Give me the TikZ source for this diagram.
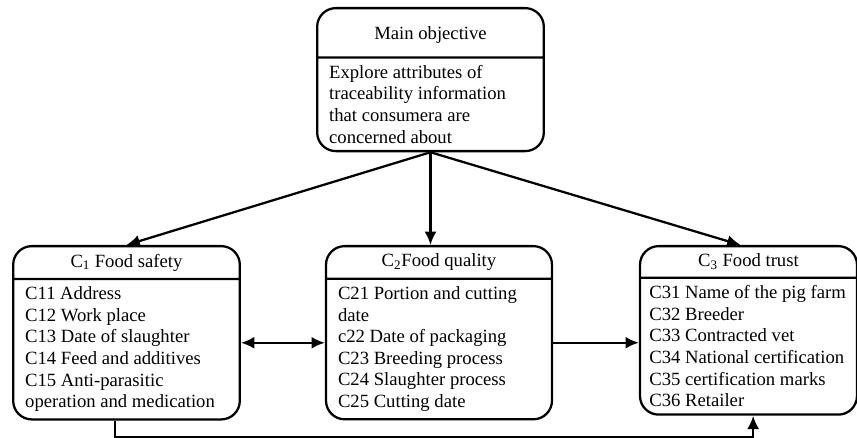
\documentclass[tikz,border=0pt]{standalone}
\usepackage{fontspec}
\setmainfont{Liberation Serif}
\usetikzlibrary{shapes, shapes.multipart, positioning, arrows.meta}

\begin{document}
\begin{tikzpicture}[
    x=0.75pt, y=0.75pt,
    >={Latex[length=10pt, width=9pt]},
    line width=1.7pt,
    criterion/.style={
        draw, rectangle split, rectangle split parts=2,
        rectangle split part align={center, left},
        rounded corners=14pt, anchor=north, align=left,
        minimum width=170pt, inner xsep=9pt, inner ysep=5pt,
        font=\fontsize{14pt}{16.2pt}\selectfont
    },
    link/.style={->}
]

\useasboundingbox (0,0) rectangle (857,438);

\node[criterion] (Goal) at (430.5, 431) {
    Main objective\rule[-7.75pt]{0pt}{25.25pt}
    \nodepart{second}
    Explore attributes of \\
    traceability information \\
    that consumera are \\
    concerned about
};

\node[criterion] (Safety) at (126.5, 193) {
    C\textsubscript{1} Food safety
    \nodepart{second}
    C11 Address \\
    C12 Work place \\
    C13 Date of slaughter \\
    C14 Feed and additives \\
    C15 Anti-parasitic \\
    operation and medication
};

\node[criterion, minimum width=169.5pt] (Quality) at (439, 193) {
    C\textsubscript{2}Food quality
    \nodepart{second}
    C21 Portion and cutting \\
    date \\
    c22 Date of packaging \\
    C23 Breeding process \\
    C24 Slaughter process \\
    C25 Cutting date
};

\node[criterion, minimum width=162.75pt, inner xsep=7pt] (Trust) at (748.5, 193) {
    C\textsubscript{3} Food trust
    \nodepart{second}
    C31 Name of the pig farm \\
    C32 Breeder \\
    C33 Contracted vet \\
    C34 National certification \\
    C35 certification marks \\
    C36 Retailer
};

% arrows from the objective down to the three criteria
\draw[link] (Goal.south) -- (Safety.north);
\draw[link] (Goal.south) -- (Goal.south |- Quality.north);
\draw[link] (Goal.south) -- ([xshift=-6pt]Trust.north);

% links between the criteria
\draw[<->] ([yshift=-7.5pt]Safety.east) -- ([yshift=-7.5pt]Safety.east -| Quality.west);
\draw[link] ([yshift=-7.5pt]Quality.east) -- ([yshift=-7.5pt]Quality.east -| Trust.west);
\draw[link] ([xshift=-8.5pt]Safety.south) -- ++(0,-17) -| ([xshift=3.5pt]Trust.south);

\end{tikzpicture}
\end{document}
